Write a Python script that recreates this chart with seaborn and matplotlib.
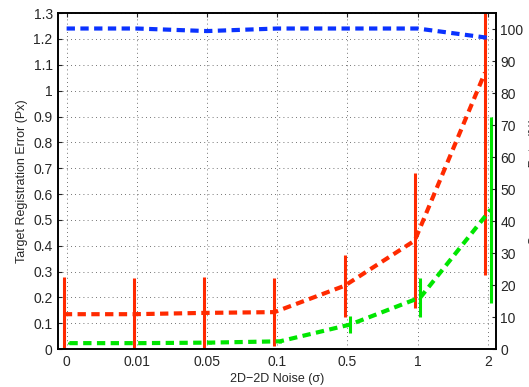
import numpy as np
import pandas as pd
import matplotlib
matplotlib.use('Agg')
import matplotlib.pyplot as plt
import seaborn as sns

noise_labels = ['0', '0.01', '0.05', '0.1', '0.5', '1', '2']
tre_red = [0.135, 0.135, 0.14, 0.143, 0.245, 0.42, 1.07]
tre_red_err = [0.145, 0.14, 0.14, 0.133, 0.12, 0.26, 0.785]
tre_green = [0.023, 0.023, 0.025, 0.03, 0.095, 0.2, 0.54]
tre_green_err = [0.004, 0.004, 0.004, 0.006, 0.033, 0.075, 0.36]
conv_rate = [100.2, 100.2, 99.4, 100.2, 100.2, 100.2, 97.3]

sns.set_style('white')
plt.rcParams['font.family'] = ['Liberation Sans', 'DejaVu Sans']
plt.rcParams['font.size'] = 10

red = '#ff2a00'
green = '#00e600'
blue = '#0a32ff'
off = 0.04

x = np.arange(len(noise_labels))
df = pd.DataFrame({'x': x, 'red': tre_red, 'green': tre_green, 'conv': conv_rate})

fig = plt.figure(figsize=(5.29, 3.87), dpi=100)
ax = fig.add_axes([0.110, 0.098, 0.828, 0.868])
ax2 = ax.twinx()

# error bars first, dashed lines on top
ax.errorbar(x - off, tre_red, yerr=tre_red_err, fmt='none', ecolor=red,
            elinewidth=2.2, capsize=0, zorder=2)
ax.errorbar(x + off, tre_green, yerr=tre_green_err, fmt='none', ecolor=green,
            elinewidth=2.2, capsize=0, zorder=2)
sns.lineplot(x=df['x'] - off, y=df['red'], ax=ax, color=red, lw=3,
             dashes=False, zorder=3)
sns.lineplot(x=df['x'] + off, y=df['green'], ax=ax, color=green, lw=3,
             dashes=False, zorder=3)
for ln in ax.get_lines():
    ln.set_dashes((2, 1.3))

sns.lineplot(x=df['x'], y=df['conv'], ax=ax2, color=blue, lw=3, zorder=3)
for ln in ax2.get_lines():
    ln.set_dashes((2, 1.3))

ax.set_xlim(-0.12, 6.12)
ax.set_ylim(0, 1.3)
ax.set_yticks(np.arange(0, 1.31, 0.1))
ax.set_yticklabels(['0'] + [f'{v:.1f}' for v in np.arange(0.1, 0.95, 0.1)] + ['1'] +
                   [f'{v:.1f}' for v in np.arange(1.1, 1.31, 0.1)])
ax.set_xticks(x)
ax.set_xticklabels(noise_labels)
ax2.set_ylim(0, 105)
ax2.set_yticks(np.arange(0, 101, 10))

ax.grid(True, linestyle=(0, (1, 4)), color='#444444', lw=0.6)
ax.tick_params(direction='in', top=True, length=3, labelsize=10, pad=4)
ax2.tick_params(direction='in', length=3, labelsize=10, pad=3)
for a in (ax, ax2):
    for s in a.spines.values():
        s.set_linewidth(1.2)
        s.set_color('black')

ax.set_xlabel('2D\u22122D Noise (\u03c3)', fontsize=9, labelpad=3)
ax.set_ylabel('Target Registration Error (Px)', fontsize=9, labelpad=4)
ax2.set_ylabel('Convergence Rate (%)', fontsize=9, labelpad=4, rotation=90)

fig.savefig('out.png', dpi=100)
